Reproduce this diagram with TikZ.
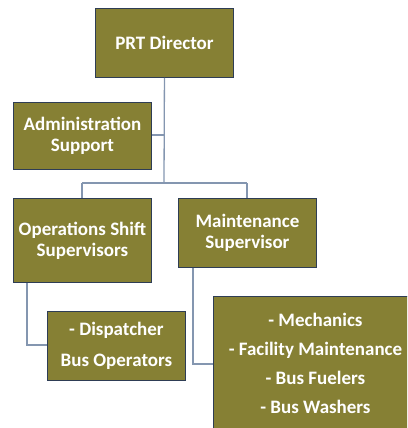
\documentclass[tikz,border=0pt]{standalone}
\usepackage{fontspec}
\setmainfont{Carlito}
\definecolor{olivebox}{RGB}{134,128,52}
\definecolor{boxedge}{RGB}{46,61,85}
\definecolor{linkline}{RGB}{132,150,176}
\begin{document}
\begin{tikzpicture}[x=1pt,y=-1pt,
  orgbox/.style={draw=boxedge,line width=0.9pt,fill=olivebox,text=white,
    align=center,inner sep=0pt,anchor=north west,font=\fontsize{19}{21}\selectfont\bfseries},
  link/.style={draw=linkline,line width=1.3pt}]
\useasboundingbox (0,0) rectangle (407,428);
\begin{scope}
\clip (0,0) rectangle (407,428);
\node[orgbox,minimum width=138,minimum height=69] (dir) at (95,8) {PRT Director};
\node[orgbox,minimum width=138,minimum height=67] (adm) at (13,102) {Administration\\Support};
\node[orgbox,minimum width=138,minimum height=84] (ops) at (13,198) {Operations Shift\\Supervisors};
\node[orgbox,minimum width=138,minimum height=69] (mnt) at (178,198) {Maintenance\\Supervisor};
\node[orgbox,minimum width=138,minimum height=69,font=\fontsize{19}{31}\selectfont\bfseries] (dsp) at (47,311) {- Dispatcher\\Bus Operators};
\node[orgbox,minimum width=204,minimum height=134,font=\fontsize{19}{29}\selectfont\bfseries] (crew) at (213,296) {- Mechanics\\- Facility Maintenance\\- Bus Fuelers\\- Bus Washers};
\coordinate (hub) at (164,183);
\coordinate (hl) at (82,183);
\coordinate (hr) at (247,183);
\coordinate (ab) at (164,135);
\coordinate (oc) at (27,345);
\coordinate (mc) at (193,364);
\draw[link] (dir.south) -- (hub);
\draw[link] (adm.east |- ab) -- (ab);
\draw[link] (hl) -- (hr);
\draw[link] (hl) -- (ops.north -| hl);
\draw[link] (hr) -- (mnt.north -| hr);
\draw[link] (ops.south -| oc) -- (oc) -- (dsp.west |- oc);
\draw[link] (mnt.south -| mc) -- (mc) -- (crew.west |- mc);
\end{scope}
\end{tikzpicture}
\end{document}
